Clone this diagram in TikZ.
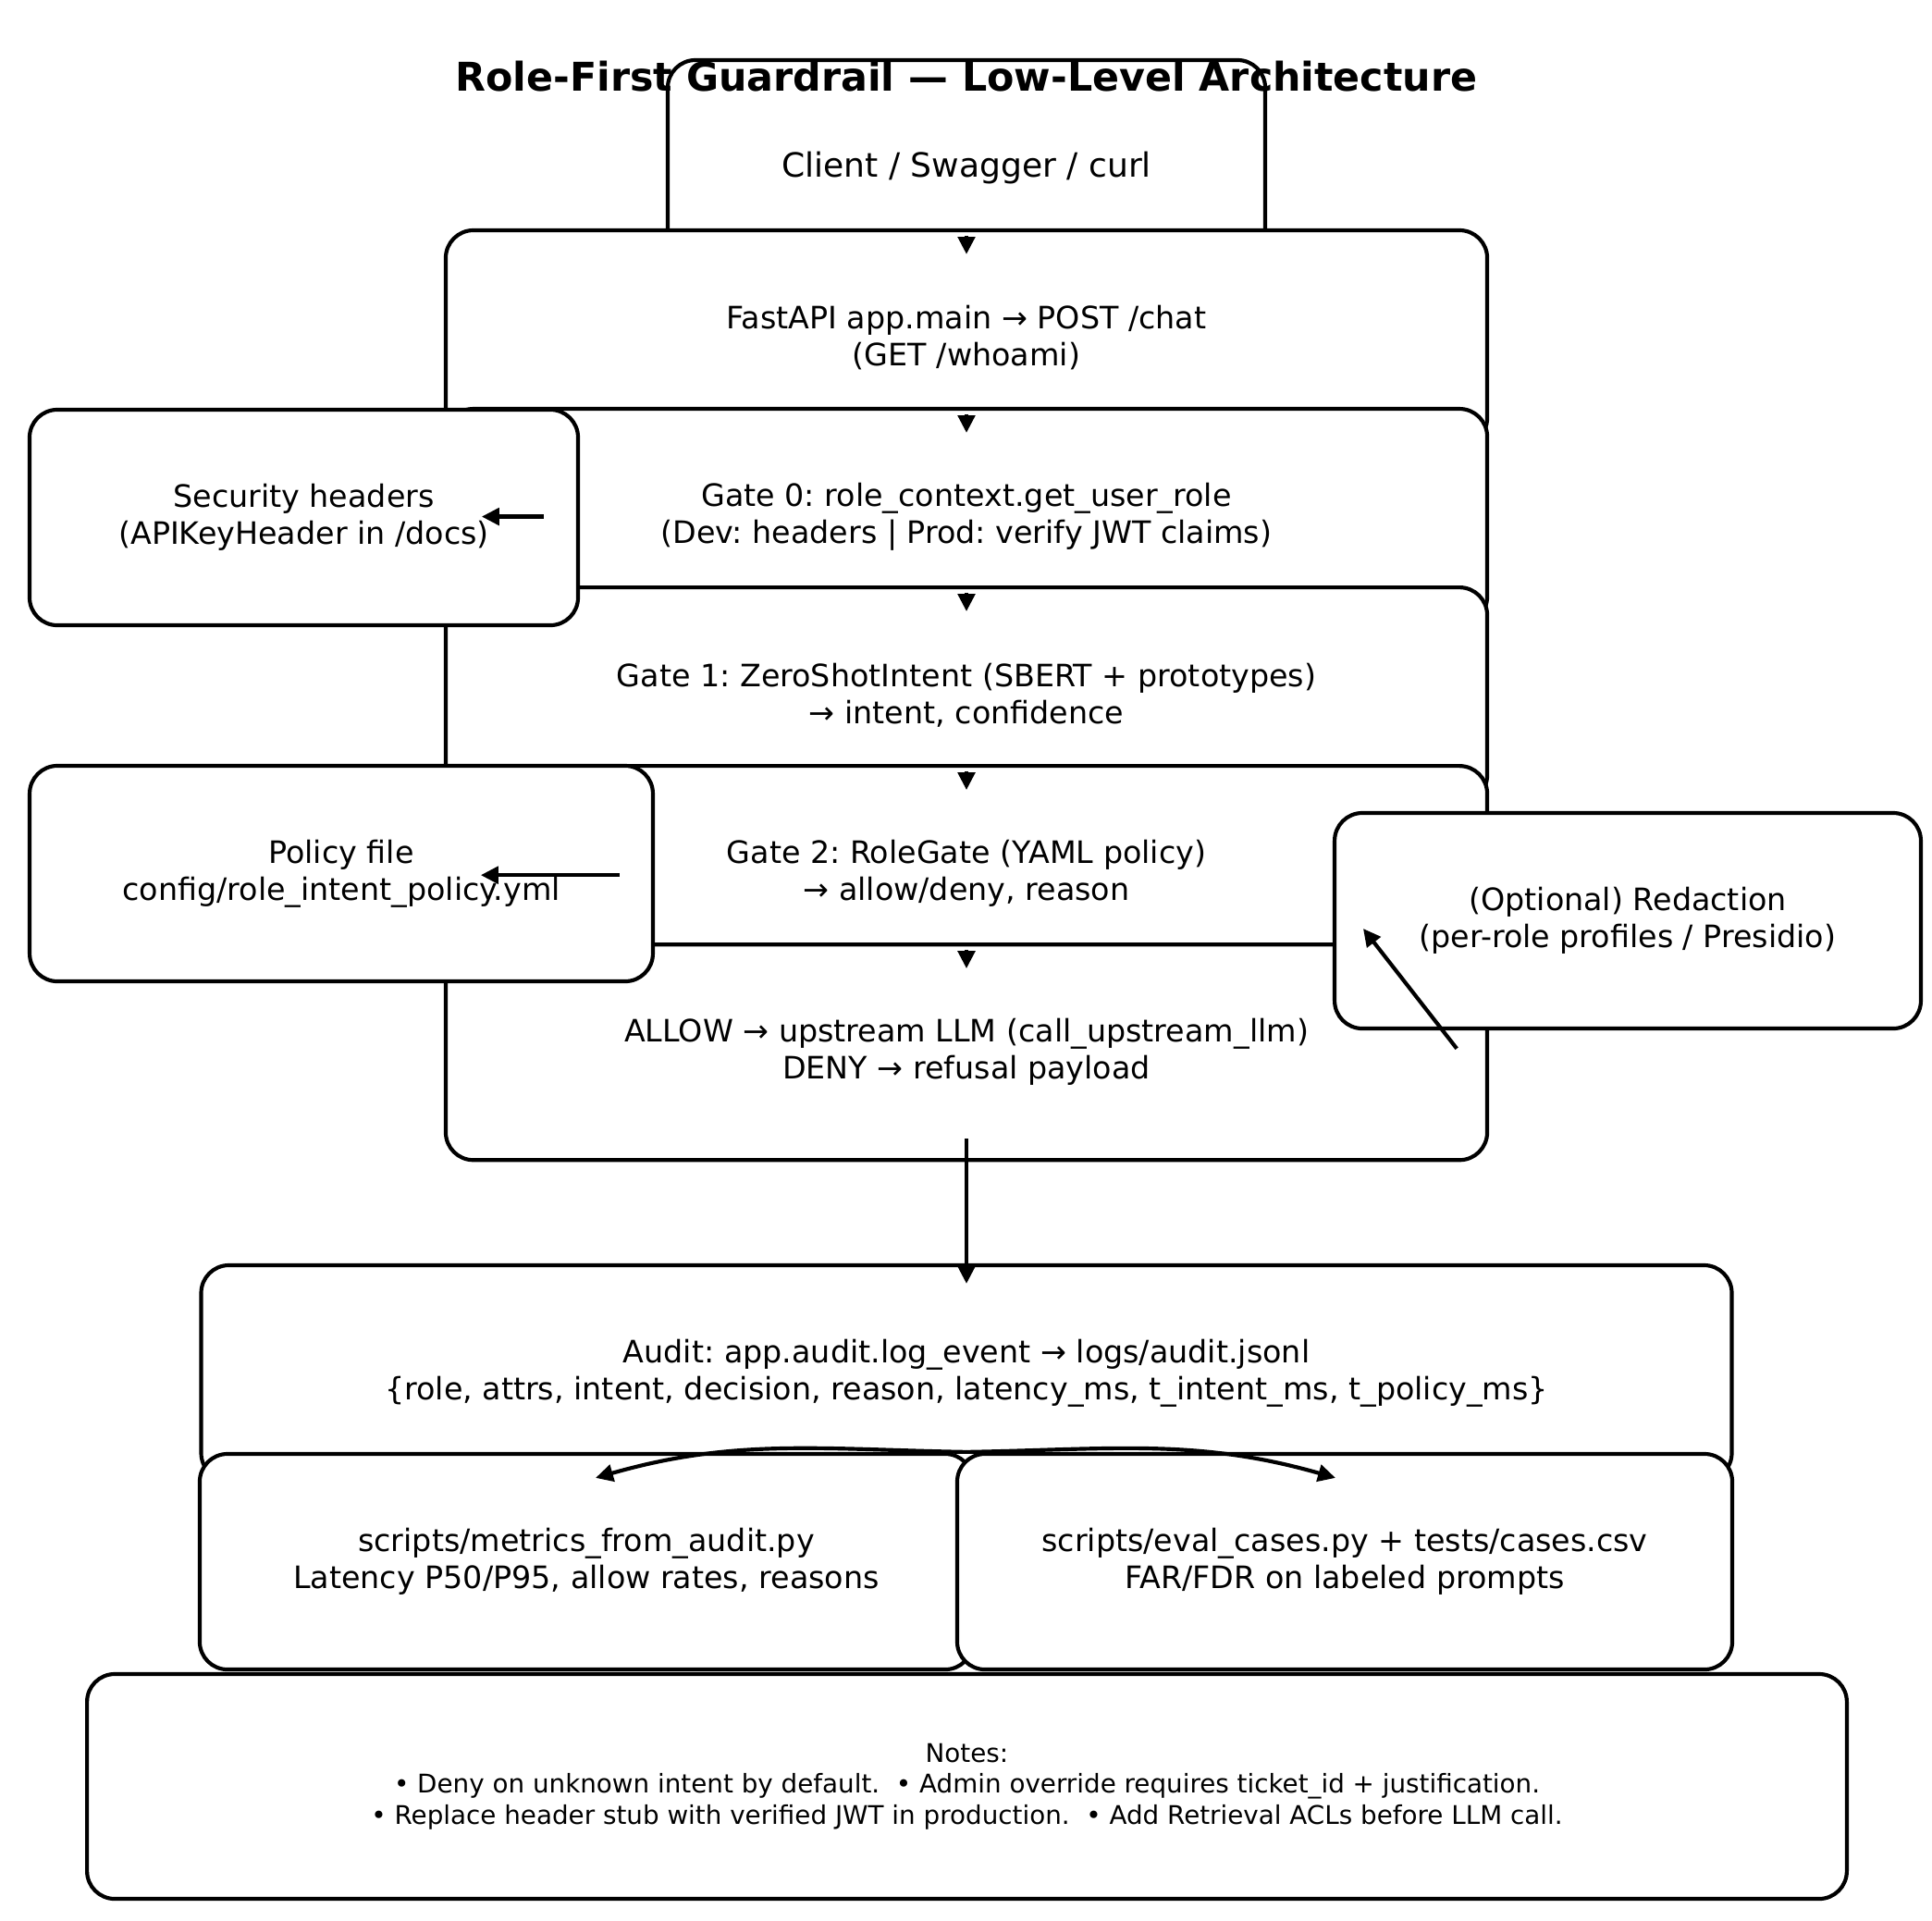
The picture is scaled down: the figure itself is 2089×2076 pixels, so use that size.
\documentclass[tikz,border=0pt]{standalone}
\usepackage{fontspec}
\setmainfont{DejaVu Sans}
\usepackage{tikz}
\usetikzlibrary{arrows.meta,positioning}
\frenchspacing

\tikzset{
	box/.style={draw, line width=1.5pt, rounded corners=10.8pt, fill=white, minimum height=83.9pt, inner sep=0pt, align=center, font=\fontsize{12}{14.4}\selectfont},
	gate/.style={box, minimum width=405.4pt},
	flow/.style={line width=1.5pt, -{Triangle[length=6.8pt,width=6.6pt]}}
}

\begin{document}
\begin{tikzpicture}[x=0.36pt, y=-0.36pt, node distance=69.5pt]
	\useasboundingbox (0,0) rectangle (2089,2076);

	\node(client) [box, minimum width=232.6pt, font=\fontsize{13}{15.6}\selectfont] at (1045,181.5) {Client / Swagger / curl};
	\node(title) [font=\fontsize{15.4}{18.5}\selectfont\bfseries] at (1045,82.6) {Role-First Guardrail — Low-Level Architecture};

	\node(api) [gate] at (1045,365.5) {FastAPI app.main → POST /chat\\(GET /whoami)};
	\node(g0) [gate, below of=api] {Gate 0: role\_context.get\_user\_role\\(Dev: headers | Prod: verify JWT claims)};
	\node(g1) [gate, below of=g0] {Gate 1: ZeroShotIntent (SBERT + prototypes)\\→ intent, confidence};
	\node(g2) [gate, below of=g1] {Gate 2: RoleGate (YAML policy)\\→ allow/deny, reason};
	\node(llm) [gate, below of=g2] {ALLOW → upstream LLM (call\_upstream\_llm)\\DENY → refusal payload};

	\node(sec) [box, minimum width=213.5pt] at (328.5,559.5) {Security headers\\(APIKeyHeader in /docs)};
	\node(pol) [box, minimum width=242.6pt] at (369,944.5) {Policy file\\config/role\_intent\_policy.yml};
	\node(red) [box, minimum width=228.2pt] at (1760,995.5) {(Optional) Redaction\\(per-role profiles / Presidio)};

	\node(audit) [box, minimum width=595.8pt] at (1045,1484.5) {Audit: app.audit.log\_event → logs/audit.jsonl\\\{role, attrs, intent, decision, reason, latency\_ms, t\_intent\_ms, t\_policy\_ms\}};
	\node(met) [box, minimum width=301pt] at (634,1688.5) {scripts/metrics\_from\_audit.py\\Latency P50/P95, allow rates, reasons};
	\node(eval) [box, minimum width=301.7pt] at (1454,1688.5) {scripts/eval\_cases.py + tests/cases.csv\\FAR/FDR on labeled prompts};
	\node(notes) [box, minimum width=685pt, minimum height=87.5pt, font=\fontsize{10}{12}\selectfont] at (1045.5,1931.5) {Notes:\\• Deny on unknown intent by default.\ \ • Admin override requires ticket\_id + justification.\\• Replace header stub with verified JWT in production.\ \ • Add Retrieval ACLs before LLM call.};

	\draw[flow] ([shift={(0,8)}]api.north) -- ([shift={(0,28)}]api.north);
	\draw[flow] ([shift={(0,8)}]g0.north) -- ([shift={(0,28)}]g0.north);
	\draw[flow] ([shift={(0,8)}]g1.north) -- ([shift={(0,28)}]g1.north);
	\draw[flow] ([shift={(0,8)}]g2.north) -- ([shift={(0,28)}]g2.north);
	\draw[flow] ([shift={(0,8)}]llm.north) -- ([shift={(0,28)}]llm.north);

	\draw[flow] ([shift={(108,0)}]g0.west) -- ([shift={(41,0)}]g0.west);
	\draw[flow] ([shift={(190,1.5)}]g2.west) -- ([shift={(40,1.5)}]g2.west);
	\draw[flow] ([shift={(-35,-4)}]llm.east) -- ([shift={(33,8.5)}]red.west);
	\draw[flow] ([shift={(0,-25)}]llm.south) -- ([shift={(0,22)}]audit.north);

	\coordinate(split) at (audit.south |- met.north);
	\draw[flow] (split) to[out=179, in=16] ([shift={(10,28)}]met.north);
	\draw[flow] (split) to[out=1, in=164] ([shift={(-10,28)}]eval.north);

\end{tikzpicture}
\end{document}
